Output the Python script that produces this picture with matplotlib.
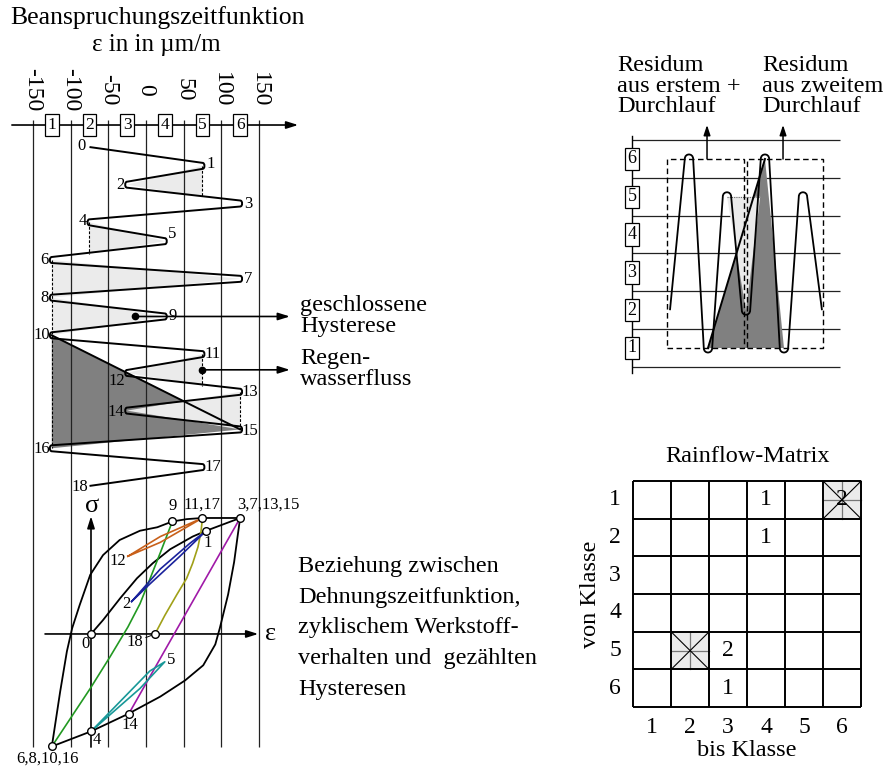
import numpy as np
import matplotlib
matplotlib.use('Agg')
import matplotlib.pyplot as plt
from matplotlib.path import Path
from matplotlib.patches import PathPatch, Polygon, Rectangle

plt.rcParams['font.family'] = ['Liberation Serif', 'DejaVu Serif']

W, H = 890, 767

### DATA

# strain-time function: strain (um/m) at each turning point 0..18
eps_tp = [-75, 75, -25, 125, -75, 25, -125, 125, -125, 25, -125, 75, -25, 125, -25, 125, -125, 75, -75]
eps_grid = [-150, -100, -50, 0, 50, 100, 150]
eps_ticks = ['-150', '-100', '-50', '0', '50', '100', '150']
class_names = ['1', '2', '3', '4', '5', '6']
class_mid = [-125, -75, -25, 25, 75, 125]

# cyclic stress-strain behaviour (sigma relative, 100 = upper turning level)
upper_eps = [-125, -114, -105, -98, -88, -74, -57, -35, -8, 15, 35, 54, 75, 125]
upper_sig = [-97, -50, -15, 5, 25, 51, 68, 81, 89, 92, 97, 99, 100, 100]
lower_eps = [-125, -73, -24, 19, 52, 76, 92, 98, 109, 117, 122, 125]
lower_sig = [-97, -84, -69, -54, -40, -27, -9, 5, 34, 62, 86, 100]
first_eps = [-73, -57, -34, -12, 9, 32, 62, 80, 125]
first_sig = [0, 12, 31, 48, 61, 73, 84, 89, 100]
green_eps = [-125, -74, -48, -24, -8, 5, 19, 35]
green_sig = [-97, -47, -20, 6, 26, 47, 70, 97]
olive_eps = [12, 25, 41, 54, 62, 69, 73, 75]
olive_sig = [0, 16, 34, 48, 61, 75, 88, 100]
purple_eps = [-23, 125]
purple_sig = [-69, 100]
teal_eps = [-73, 5, 25, -8, -73]
teal_sig = [-84, -32, -24, -47, -84]
blue_eps = [-19, 19, 58, 80, 45, 5, -19]
blue_sig = [28, 56, 78, 89, 67, 43, 28]
orange_eps = [-24, 19, 75, 19, -24]
orange_sig = [67, 84, 100, 79, 67]

hyst_names = ['0', '1', '2', '3,7,13,15', '4', '5', '6,8,10,16', '9', '11,17', '12', '14', '18']
hyst_eps = [-73, 80, -19, 125, -73, 25, -125, 35, 75, -24, -23, 12]
hyst_sig = [0, 89, 28, 100, -84, -24, -97, 97, 100, 67, -69, 0]
hyst_marked = [True, True, False, True, True, False, True, True, True, False, True, True]

# residue of the rainflow count, two passes (class levels)
res_levels = [2, 6, 1, 5, 2, 6, 1, 5, 2]
res_classes = [1, 2, 3, 4, 5, 6]

# rainflow matrix (row: von Klasse, column: bis Klasse)
rf_counts = [[0, 0, 0, 1, 0, 2],
             [0, 0, 0, 1, 0, 0],
             [0, 0, 0, 0, 0, 0],
             [0, 0, 0, 0, 0, 0],
             [0, 0, 2, 0, 0, 0],
             [0, 0, 1, 0, 0, 0]]
rf_struck = [(1, 6), (5, 2)]

### HELPERS

def rounded(t, v, h, r):
    # polyline through turning points with small rounded tips
    verts = [(t[0], v[0])]
    codes = [Path.MOVETO]
    for i in range(1, len(v) - 1):
        s = np.sign(v[i] - v[i - 1])
        verts += [(t[i] - h, v[i]), (t[i] - h, v[i] + s * r),
                  (t[i] + h, v[i] + s * r), (t[i] + h, v[i])]
        codes += [Path.LINETO, Path.CURVE4, Path.CURVE4, Path.CURVE4]
    verts.append((t[-1], v[-1]))
    codes.append(Path.LINETO)
    return np.array(verts, dtype=float), codes


def t_at(vals, k, level):
    # time where segment k -> k+1 reaches a level
    return k + (level - vals[k]) / (vals[k + 1] - vals[k])


def ftext(x, y, s, **kw):
    fig.text(x / W, 1 - y / H, s, **kw)


def full_axes(xlim, ylim, z):
    ax = fig.add_axes([0, 0, 1, 1], zorder=z)
    ax.set_xlim(*xlim)
    ax.set_ylim(*ylim)
    ax.axis('off')
    ax.patch.set_alpha(0)
    return ax


fig = plt.figure(figsize=(W / 100, H / 100), dpi=100)

LIGHT = '#ebebeb'
DARK = '#808080'
ARROW = '-|>,head_length=0.7,head_width=0.22'
BOX = dict(boxstyle='square,pad=0.15', fc='white', ec='black', lw=0.9)

### LEFT: strain-time function
axA = full_axes((-193.8, 987.7), (32.93, -7.81), 1)
e = eps_tp
t = np.arange(len(e))

axA.vlines(eps_grid, -1.45, 31.85, color='#222222', lw=0.9, zorder=3)
axA.annotate('', xy=(202, -1.17), xytext=(-178, -1.17),
             arrowprops=dict(arrowstyle=ARROW, lw=1.2, color='black', shrinkA=0, shrinkB=0), zorder=5)
for xv, lab in zip(eps_grid, eps_ticks):
    axA.text(xv, -3.05, lab, rotation=-90, ha='center', va='center', fontsize=17)
for xv, lab in zip(class_mid, class_names):
    axA.text(xv, -1.17, lab, ha='center', va='center', fontsize=12.5, zorder=6, bbox=BOX)

# closed hysteresis areas and the rainflow residue area
dark = [(e[10], 10), (e[15], 15), (e[16], 16)]
axA.add_patch(Polygon(dark, closed=True, fc=DARK, ec='none', zorder=1))
light = [
    [(e[1], 1), (e[2], 2), (e[1], t_at(e, 2, e[1]))],
    [(e[4], 4), (e[5], 5), (e[4], t_at(e, 5, e[4]))],
    [(e[6], 6), (e[7], 7), (e[8], 8), (e[9], 9), (e[10], 10)],
    [(e[11], 11), (e[12], 12), (e[11], t_at(e, 12, e[11]))],
    [(e[13], 13), (e[14], 14), (e[15], 15)],
]
for poly in light:
    axA.add_patch(Polygon(poly, closed=True, fc=LIGHT, ec='none', zorder=2))
dashed = [(e[1], 1, t_at(e, 2, e[1])), (e[4], 4, t_at(e, 5, e[4])), (e[6], 6, 16),
          (e[11], 11, t_at(e, 12, e[11])), (e[13], 13, 15)]
for xv, t0, t1 in dashed:
    axA.plot([xv, xv], [t0, t1], color='black', lw=0.8, ls=(0, (2.5, 1.5)), zorder=4)
axA.plot([e[10], e[15]], [10, 15], color='black', lw=1.4, zorder=4)

verts, codes = rounded(t, e, 0.16, 3.5)
axA.add_patch(PathPatch(Path(verts[:, ::-1], codes), fc='none', ec='black', lw=1.4, zorder=4))

lab_dx = [-8, 8, -7, 8, -7, 7, -7, 8, -7, 8, -10, 10, -10, 10, -11, 10, -10, 10, -10]
lab_dy = [1, 2, 0, 0, 1, 7, 0, 0, 0, 0, 0, 0, -8, 0, -1, -2, -1, 0, -1]
for k in range(len(e)):
    axA.annotate(str(k), (e[k], k), xytext=(lab_dx[k], lab_dy[k]), textcoords='offset pixels',
                 ha='center', va='center', fontsize=12, zorder=6)

# pointers to the side notes
p1 = (-15, 9)
p2 = (e[11], (11 + t_at(e, 12, e[11])) / 2)
for p in (p1, p2):
    axA.plot(*p, 'o', color='black', ms=4.5, zorder=6)
    axA.annotate('', xy=(191, p[1]), xytext=p,
                 arrowprops=dict(arrowstyle=ARROW, lw=1.2, color='black', shrinkA=0, shrinkB=0),
                 zorder=6)

### LEFT BOTTOM: cyclic stress-strain curves
axH = full_axes((-193.8, 987.7), (-114.7, 546.6), 2)
axH.annotate('', xy=(-73, 101.5), xytext=(-73, -97.5),
             arrowprops=dict(arrowstyle=ARROW, lw=1.2, color='black', shrinkA=0, shrinkB=0))
axH.annotate('', xy=(149, 0), xytext=(-134, 0),
             arrowprops=dict(arrowstyle=ARROW, lw=1.2, color='black', shrinkA=0, shrinkB=0))
axH.annotate('σ', (-73, 101.5), xytext=(1, 10), textcoords='offset pixels', ha='center',
             va='center', fontsize=19)
axH.annotate('ε', (149, 0), xytext=(12, 0), textcoords='offset pixels', ha='center',
             va='center', fontsize=19)

for xs, ys in ((upper_eps, upper_sig), (lower_eps, lower_sig), (first_eps, first_sig)):
    axH.plot(xs, ys, color='black', lw=1.3, zorder=3)
curves = [(green_eps, green_sig, '#229922'), (olive_eps, olive_sig, '#a0a018'),
          (purple_eps, purple_sig, '#a01aa8'), (teal_eps, teal_sig, '#189898'),
          (blue_eps, blue_sig, '#1a229c'), (orange_eps, orange_sig, '#c8601a')]
for xs, ys, c in curves:
    axH.plot(xs, ys, color=c, lw=1.2, zorder=4)

for xv, yv, m in zip(hyst_eps, hyst_sig, hyst_marked):
    if m:
        axH.plot(xv, yv, 'o', ms=5.5, mfc='white', mec='black', mew=1, zorder=5)

h_dx = [-5, 1, -5, -3, 6, 2, -4, 0, 0, -10, 1, -12]
h_dy = [-10, -12, -3, 13, -9, 2, -12, 15, 13, -5, -11, -8]
h_ha = ['center', 'center', 'center', 'left', 'center', 'left', 'center', 'center', 'center',
        'center', 'center', 'right']
for name, xv, yv, dx, dy, ha in zip(hyst_names, hyst_eps, hyst_sig, h_dx, h_dy, h_ha):
    kw = {}
    if name == '18':
        kw['arrowprops'] = dict(arrowstyle='-', lw=0.7, color='black', shrinkA=0, shrinkB=3)
    axH.annotate(name, (xv, yv), xytext=(dx, dy), textcoords='offset pixels', ha=ha,
                 va='center', fontsize=12, zorder=6, **kw)

### TOP RIGHT: residue, first and second pass
axR = full_axes((-35.26, 11.58), (-10.085, 10.206), 3)
tr = np.arange(len(res_levels))
bounds = np.arange(0.5, 7.0, 1.0)
axR.hlines(bounds, -2.0, 8.95, color='#222222', lw=0.9, zorder=1)
axR.plot([-2.0, -2.0], [0.35, 6.6], color='black', lw=1.0, zorder=1)
for lv in res_classes:
    axR.text(-2.0, lv, str(lv), ha='center', va='center', fontsize=13, zorder=6, bbox=BOX)

lv = res_levels
axR.add_patch(Polygon([(2, lv[2]), (5, lv[5]), (6, lv[6])], closed=True, fc=DARK, ec='none', zorder=2))
tc = t_at(lv, 4, lv[3])
axR.add_patch(Polygon([(3, lv[3]), (4, lv[4]), (tc, lv[3])], closed=True, fc=LIGHT, ec='none', zorder=3))
axR.plot([3, tc], [lv[3], lv[3]], color='#666666', lw=0.8, ls=(0, (1, 1)), zorder=3)
axR.plot([2, 5], [lv[2], lv[5]], color='black', lw=1.4, zorder=4)
verts, codes = rounded(tr, lv, 0.22, 0.16)
axR.add_patch(PathPatch(Path(verts, codes), fc='none', ec='black', lw=1.3, zorder=4))

for x0, x1 in ((-0.15, 3.9), (4.05, 8.05)):
    axR.add_patch(Rectangle((x0, 1), x1 - x0, 5, fc='none', ec='black', lw=1.0,
                            ls=(0, (4, 2.5)), zorder=5))
for xa in (1.95, 5.95):
    axR.annotate('', xy=(xa, 6.9), xytext=(xa, 6.0),
                 arrowprops=dict(arrowstyle='-|>,head_length=0.6,head_width=0.2', lw=1.1,
                                 color='black', shrinkA=0, shrinkB=0), zorder=6)

ftext(617, 86, 'Residum\naus erstem +\nDurchlauf', ha='left', va='center', fontsize=17.5,
      linespacing=0.95)
ftext(762, 86, 'Residum\naus zweitem\nDurchlauf', ha='left', va='center', fontsize=17.5,
      linespacing=0.95)

### BOTTOM RIGHT: rainflow matrix
axM = full_axes((-16.16, 7.26), (8.09, -12.27), 4)
n = len(rf_counts)
for (r, c) in rf_struck:
    axM.add_patch(Rectangle((c - 0.5, r - 0.5), 1, 1, fc=LIGHT, ec='none', zorder=1))
    axM.plot([c - 0.5, c + 0.5], [r, r], color='#777777', lw=0.9, zorder=2)
    axM.plot([c, c], [r - 0.5, r + 0.5], color='#777777', lw=0.9, zorder=2)
for r in range(1, n + 1):
    for c in range(1, n + 1):
        if rf_counts[r - 1][c - 1]:
            axM.text(c, r, str(rf_counts[r - 1][c - 1]), ha='center', va='center', fontsize=17, zorder=3)
for (r, c) in rf_struck:
    axM.plot([c - 0.5, c + 0.5], [r - 0.5, r + 0.5], color='black', lw=0.8, zorder=4)
    axM.plot([c - 0.5, c + 0.5], [r + 0.5, r - 0.5], color='black', lw=0.8, zorder=4)
axM.hlines(np.arange(0.5, n + 1), 0.5, n + 0.5, color='black', lw=1.4, zorder=5)
axM.vlines(np.arange(0.5, n + 1), 0.5, n + 0.5, color='black', lw=1.4, zorder=5)
for k in range(1, n + 1):
    axM.text(0.03, k, str(k), ha='center', va='center', fontsize=17)
    axM.text(k, 7.05, str(k), ha='center', va='center', fontsize=17)
axM.text(3.5, -0.14, 'Rainflow-Matrix', ha='center', va='center', fontsize=17.5)
axM.text(3.5, 7.64, 'bis Klasse', ha='center', va='center', fontsize=17.5)
axM.text(-0.62, 3.5, 'von Klasse', ha='center', va='center', fontsize=17.5, rotation=90)

### TEXT
ftext(158, 18, 'Beanspruchungszeitfunktion', ha='center', va='center', fontsize=18.5)
ftext(156, 45, 'ε in in µm/m', ha='center', va='center', fontsize=18)
ftext(300, 316, 'geschlossene\nHysterese', ha='left', va='center', fontsize=17.5, linespacing=1.05)
ftext(300, 369, 'Regen-\nwasserfluss', ha='left', va='center', fontsize=17.5, linespacing=1.05)
ftext(298, 628, 'Beziehung zwischen\nDehnungszeitfunktion,\nzyklischem Werkstoff-\n'
      'verhalten und  gezählten\nHysteresen', ha='left', va='center', fontsize=17.5,
      linespacing=1.62)

fig.savefig('out.png', dpi=100)
